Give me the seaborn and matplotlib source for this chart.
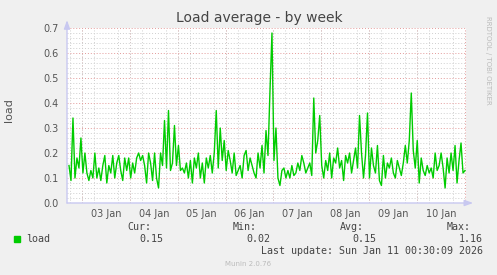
import numpy as np
import pandas as pd
import matplotlib
matplotlib.use("Agg")
import matplotlib.pyplot as plt
import matplotlib.dates as mdates
from matplotlib.patches import Rectangle
import seaborn as sns

# ---- data (load average, ~hourly samples) ----
load_jan02 = [0.15, 0.09, 0.34, 0.10, 0.18, 0.14, 0.26]
load_jan03 = [0.12, 0.20, 0.12, 0.09, 0.13, 0.10, 0.20, 0.10, 0.14, 0.09, 0.15, 0.19,
              0.08, 0.15, 0.12, 0.19, 0.10, 0.16, 0.19, 0.13, 0.09, 0.18, 0.13, 0.18]
load_jan04 = [0.10, 0.16, 0.12, 0.18, 0.20, 0.17, 0.19, 0.15, 0.08, 0.20, 0.16, 0.09,
              0.20, 0.10, 0.06, 0.20, 0.15, 0.33, 0.14, 0.37, 0.13, 0.16, 0.31, 0.15]
load_jan05 = [0.23, 0.13, 0.14, 0.12, 0.16, 0.10, 0.17, 0.08, 0.18, 0.14, 0.20, 0.10,
              0.16, 0.08, 0.18, 0.14, 0.19, 0.12, 0.20, 0.37, 0.14, 0.30, 0.17, 0.25]
load_jan06 = [0.13, 0.21, 0.17, 0.12, 0.20, 0.11, 0.13, 0.15, 0.10, 0.19, 0.21, 0.13,
              0.18, 0.15, 0.12, 0.10, 0.20, 0.14, 0.23, 0.12, 0.29, 0.19, 0.45, 0.68]
load_jan07 = [0.17, 0.30, 0.10, 0.07, 0.13, 0.14, 0.10, 0.13, 0.10, 0.15, 0.11, 0.12,
              0.16, 0.13, 0.19, 0.16, 0.12, 0.14, 0.16, 0.11, 0.42, 0.20, 0.25, 0.35]
load_jan08 = [0.15, 0.10, 0.17, 0.13, 0.20, 0.10, 0.18, 0.16, 0.22, 0.14, 0.17, 0.09,
              0.19, 0.16, 0.20, 0.12, 0.17, 0.22, 0.14, 0.35, 0.20, 0.10, 0.19, 0.36]
load_jan09 = [0.10, 0.22, 0.15, 0.12, 0.23, 0.09, 0.07, 0.19, 0.10, 0.16, 0.14, 0.18,
              0.12, 0.10, 0.17, 0.14, 0.11, 0.16, 0.23, 0.16, 0.25, 0.44, 0.21, 0.14]
load_jan10 = [0.25, 0.08, 0.18, 0.13, 0.11, 0.15, 0.12, 0.14, 0.10, 0.20, 0.13, 0.15,
              0.20, 0.14, 0.06, 0.18, 0.12, 0.20, 0.13, 0.23, 0.08, 0.17, 0.24, 0.12, 0.13]

load = (load_jan02 + load_jan03 + load_jan04 + load_jan05 + load_jan06 +
        load_jan07 + load_jan08 + load_jan09 + load_jan10)

first_sample = "2026-01-02 17:30"
last_sample = "2026-01-11 00:00"
view_start = "2026-01-02 16:30"
view_end = "2026-01-11 00:30"

day_labels = ["03 Jan", "04 Jan", "05 Jan", "06 Jan", "07 Jan", "08 Jan", "09 Jan", "10 Jan"]
y_ticks = [0.0, 0.1, 0.2, 0.3, 0.4, 0.5, 0.6, 0.7]

legend_name = "load"
stat_names = ["Cur:", "Min:", "Avg:", "Max:"]
stat_values = ["0.15", "0.02", "0.15", "1.16"]
last_update = "Last update: Sun Jan 11 00:30:09 2026"

df = pd.DataFrame({
    "time": pd.date_range(first_sample, last_sample, periods=len(load)),
    "load": load,
})

# ---- figure ----
W, H = 497, 275
fig = plt.figure(figsize=(W / 100, H / 100), dpi=100)
fig.patch.set_facecolor("#F0F0F0")
ax = fig.add_axes([67 / W, (H - 203) / H, 399 / W, 175 / H])
ax.set_facecolor("#FFFFFF")

sns.lineplot(data=df, x="time", y="load", ax=ax, color="#00CC00", linewidth=1.0)

ax.set_xlim(pd.Timestamp(view_start), pd.Timestamp(view_end))
ax.set_ylim(0, 0.7)

# grids
dot = (0, (1, 2))
grey = "#CFCFCF"
red = "#E39A9A"
ax.yaxis.set_major_locator(matplotlib.ticker.FixedLocator(y_ticks))
ax.yaxis.set_minor_locator(matplotlib.ticker.MultipleLocator(0.02))
ax.yaxis.set_major_formatter(matplotlib.ticker.FormatStrFormatter("%.1f"))
ax.grid(which="minor", axis="y", color=grey, linestyle=dot, linewidth=0.7)
ax.grid(which="major", axis="y", color=red, linestyle=dot, linewidth=0.7)

midnights = pd.date_range("2026-01-03", "2026-01-11", freq="D")
noons = midnights[:-1] + pd.Timedelta(hours=12)
six_hours = pd.date_range(view_start, view_end, freq="6h").floor("6h")
ax.xaxis.set_major_locator(matplotlib.ticker.FixedLocator(mdates.date2num(noons)))
ax.xaxis.set_major_formatter(matplotlib.ticker.FixedFormatter(day_labels))
ax.xaxis.set_minor_locator(matplotlib.ticker.FixedLocator(mdates.date2num(six_hours)))
ax.grid(which="minor", axis="x", color=grey, linestyle=dot, linewidth=0.7)
for m in midnights:
    ax.axvline(m, color=red, linestyle=dot, linewidth=0.7, zorder=0.5)

ax.tick_params(axis="both", which="both", length=0, colors="#555555", labelsize=7)
ax.tick_params(axis="y", pad=6)
ax.tick_params(axis="x", pad=4)
for s in ax.spines.values():
    s.set_visible(False)
ax.set_xlabel("")
ax.set_ylabel("")

# axis arrows
arrow_col = "#C8C8F0"
ax.annotate("", xy=(0, 1.045), xytext=(0, 0), xycoords="axes fraction",
            arrowprops=dict(arrowstyle="-|>,head_width=0.18,head_length=0.5",
                            color=arrow_col, lw=1, shrinkA=0, shrinkB=0))
ax.annotate("", xy=(1.018, 0), xytext=(0, 0), xycoords="axes fraction",
            arrowprops=dict(arrowstyle="-|>,head_width=0.18,head_length=0.5",
                            color=arrow_col, lw=1, shrinkA=0, shrinkB=0))

# texts
fig.text(259 / W, 1 - 18 / H, "Load average - by week", ha="center", va="center",
         fontsize=10, color="#444444")
fig.text(9 / W, 1 - 110 / H, "load", ha="center", va="center", rotation=90,
         fontsize=8, color="#555555")
fig.text(488 / W, 1 - 60 / H, "RRDTOOL / TOBI OETIKER", ha="center", va="center",
         rotation=270, fontsize=5, color="#BBBBBB")

mono = "DejaVu Sans Mono"
fs = 7.2
fig.add_artist(Rectangle((14 / W, 1 - 242 / H), 6 / W, 6 / H, transform=fig.transFigure,
                         color="#00CC00"))
fig.text(26 / W, 1 - 239 / H, legend_name, ha="left", va="center", family=mono,
         fontsize=fs, color="#444444")
name_right = [151, 257, 364, 471]
val_right = [163, 270, 376, 483]
for n, v, nr, vr in zip(stat_names, stat_values, name_right, val_right):
    fig.text(nr / W, 1 - 227 / H, n, ha="right", va="center", family=mono,
             fontsize=fs, color="#444444")
    fig.text(vr / W, 1 - 239 / H, v, ha="right", va="center", family=mono,
             fontsize=fs, color="#444444")
fig.text(483 / W, 1 - 251 / H, last_update, ha="right", va="center", family=mono,
         fontsize=fs, color="#444444")
fig.text(248 / W, 1 - 264 / H, "Munin 2.0.76", ha="center", va="center",
         fontsize=5, color="#BBBBBB")

fig.savefig("out.png", dpi=100, facecolor=fig.get_facecolor())
